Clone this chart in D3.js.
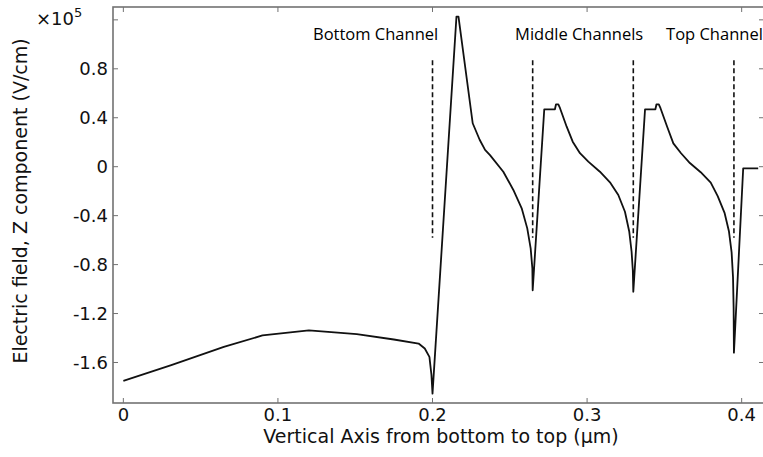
<!DOCTYPE html>
<html lang="en">
<head>
  <meta charset="utf-8">
  <title>Electric field Z component</title>
  <script src="https://d3js.org/d3.v7.min.js"></script>
  <style>
    body { margin: 0; background: #fff; }
    .tick-label { font: 18px "DejaVu Sans", sans-serif; fill: #111; }
    .axis-title { font: 19px "DejaVu Sans", sans-serif; fill: #111; }
    .note { font: 16.5px "Open Sans", sans-serif; fill: #000; }
  </style>
</head>
<body>
  <div id="chart"></div>

  <script>
    "use strict"

    // position along vertical axis (um) and Ez (x1e5 V/cm)
    var posUm = [0, 0.031, 0.065, 0.09, 0.12, 0.151, 0.175, 0.191, 0.195, 0.198, 0.1993, 0.2,
      0.2155, 0.2168, 0.226, 0.2305, 0.234, 0.2372, 0.2458, 0.2523, 0.2577, 0.2613, 0.2635, 0.2646, 0.2648,
      0.2723, 0.2792, 0.2799, 0.2814, 0.2825, 0.2868, 0.2907, 0.2954, 0.3008, 0.3083, 0.3148, 0.3202,
      0.3245, 0.3273, 0.3288, 0.3296, 0.3299,
      0.3375, 0.3442, 0.3449, 0.3464, 0.3475, 0.3518, 0.3558, 0.3608, 0.3665, 0.3735, 0.38, 0.3845,
      0.389, 0.3918, 0.3935, 0.3944, 0.3948, 0.395,
      0.401, 0.4107];
    var ezVal = [-1.75, -1.622, -1.472, -1.379, -1.338, -1.368, -1.412, -1.445, -1.486, -1.554, -1.70, -1.854,
      1.227, 1.227, 0.355, 0.22, 0.137, 0.095, -0.041, -0.19, -0.34, -0.504, -0.667, -0.831, -1.01,
      0.469, 0.469, 0.51, 0.51, 0.478, 0.327, 0.2045, 0.11, 0.041, -0.041, -0.128, -0.231,
      -0.368, -0.532, -0.695, -0.85, -1.022,
      0.469, 0.469, 0.51, 0.51, 0.478, 0.327, 0.191, 0.11, 0.03, -0.045, -0.13, -0.24,
      -0.38, -0.53, -0.70, -0.90, -1.15, -1.52,
      -0.013, -0.013];

    // dashed channel markers
    var channelPos = [0.2, 0.2648, 0.3299, 0.395];
    var channelSpan = [-0.58, 0.87];
    var channelNames = ["Bottom Channel", "Middle Channels", "Top Channel"];

    var xTicks = [0, 0.1, 0.2, 0.3, 0.4];
    var yTicks = [-1.6, -1.2, -0.8, -0.4, 0, 0.4, 0.8, 1.2];
    var yTickLabels = ["-1.6", "-1.2", "-0.8", "-0.4", "0", "0.4", "0.8", ""];

    var width = 763, height = 457;
    var margin = { top: 7, right: -2, bottom: 54, left: 113 };
    var widthViz = width - margin.left - margin.right;
    var heightViz = height - margin.top - margin.bottom;

    var svg = d3.select('#chart')
      .append('svg')
      .attr('width', width)
      .attr('height', height);

    var g = svg.append('g')
      .attr('transform', 'translate(' + margin.left + ',' + margin.top + ')');

    var x = d3.scaleLinear()
      .domain([-0.0067, 0.4151])
      .range([0, widthViz]);

    var y = d3.scaleLinear()
      .domain([-1.931, 1.305])
      .range([heightViz, 0]);

    /*
     * frame + inward ticks
     */
    var axisColor = '#727272';
    g.append('rect')
      .attr('x', 0).attr('y', 0)
      .attr('width', widthViz).attr('height', heightViz)
      .attr('fill', 'none')
      .attr('stroke', axisColor)
      .attr('stroke-width', 1.6);

    var ticksG = g.append('g').attr('stroke', axisColor).attr('stroke-width', 1);
    ticksG.selectAll('.xb').data(xTicks).enter().append('line')
      .attr('x1', d => x(d)).attr('x2', d => x(d))
      .attr('y1', heightViz).attr('y2', heightViz - 5);
    ticksG.selectAll('.xt').data(xTicks).enter().append('line')
      .attr('x1', d => x(d)).attr('x2', d => x(d))
      .attr('y1', 0).attr('y2', 5);
    ticksG.selectAll('.yl').data(yTicks).enter().append('line')
      .attr('x1', 0).attr('x2', 5)
      .attr('y1', d => y(d)).attr('y2', d => y(d));
    ticksG.selectAll('.yr').data(yTicks).enter().append('line')
      .attr('x1', widthViz).attr('x2', widthViz - 6)
      .attr('y1', d => y(d)).attr('y2', d => y(d));

    g.selectAll('.xlab').data(xTicks).enter().append('text')
      .attr('class', 'tick-label')
      .attr('x', d => x(d))
      .attr('y', heightViz + 18)
      .attr('text-anchor', 'middle')
      .text(d => d3.format('~g')(d));

    g.selectAll('.ylab').data(yTicks).enter().append('text')
      .attr('class', 'tick-label')
      .attr('x', -5)
      .attr('y', d => y(d))
      .attr('dy', '0.36em')
      .attr('text-anchor', 'end')
      .text((d, i) => yTickLabels[i]);

    // x10^5 multiplier
    var mult = svg.append('text')
      .attr('class', 'tick-label')
      .attr('x', 36)
      .attr('y', 25);
    mult.append('tspan').text('\u00d710');
    mult.append('tspan').attr('dy', -8).style('font-size', '13px').text('5');

    /*
     * axis titles
     */
    svg.append('text')
      .attr('class', 'axis-title')
      .attr('x', margin.left + x(0.2055))
      .attr('y', 443)
      .attr('text-anchor', 'middle')
      .text('Vertical Axis from bottom to top (\u00b5m)');

    svg.append('text')
      .attr('class', 'axis-title')
      .attr('transform', 'translate(27,' + (margin.top + y(-0.28)) + ') rotate(-90)')
      .attr('text-anchor', 'middle')
      .text('Electric field, Z component (V/cm)');

    /*
     * channel markers
     */
    g.selectAll('.chan').data(channelPos).enter().append('line')
      .attr('x1', d => x(d)).attr('x2', d => x(d))
      .attr('y1', y(channelSpan[1])).attr('y2', y(channelSpan[0]))
      .attr('stroke', '#111')
      .attr('stroke-width', 1.6)
      .attr('stroke-dasharray', '5,3');

    var noteStart = [0.1227, 0.2534, 0.3511];
    g.selectAll('.note').data(channelNames).enter().append('text')
      .attr('class', 'note')
      .attr('x', (d, i) => x(noteStart[i]))
      .attr('y', 33)
      .text(d => d);

    /*
     * curve
     */
    var pts = posUm.map((p, i) => [p, ezVal[i]]);
    var line = d3.line()
      .x(d => x(d[0]))
      .y(d => y(d[1]));

    g.append('path')
      .datum(pts)
      .attr('fill', 'none')
      .attr('stroke', '#111')
      .attr('stroke-width', 1.8)
      .attr('stroke-linejoin', 'round')
      .attr('d', line);
  </script>
</body>
</html>
